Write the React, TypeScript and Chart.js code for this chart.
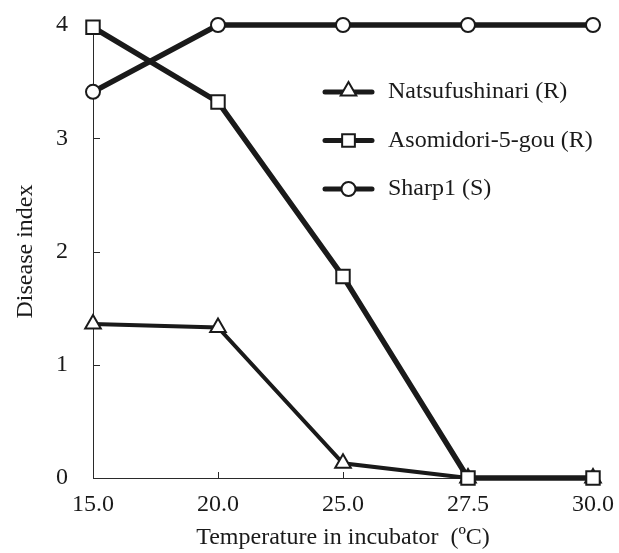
import React, { useEffect, useRef } from 'react';
import { Chart, registerables } from 'chart.js';

Chart.register(...registerables);

// ---- data ----
const temperatures = ['15.0', '20.0', '25.0', '27.5', '30.0'];
const natsufushinari = [1.36, 1.33, 0.13, 0, 0];
const asomidori = [3.98, 3.32, 1.78, 0, 0];
const sharp1 = [3.41, 4, 4, 4, 4];
const yTickValues = [0, 1, 2, 3, 4];
const seriesNames = ['Natsufushinari (R)', 'Asomidori-5-gou (R)', 'Sharp1 (S)'];
const seriesMarkers = ['triangle', 'rect', 'circle'];

const INK = '#1a1a1a';
const AXIS = '#2a2a2a';
const FONT_FAMILY = "'Liberation Serif', 'Times New Roman', serif";
const font = { family: FONT_FAMILY, size: 24 };

function drawMarker(ctx: CanvasRenderingContext2D, style: string, x: number, y: number, r: number) {
  ctx.beginPath();
  if (style === 'triangle') {
    ctx.moveTo(x, y - r);
    ctx.lineTo(x + r * Math.sin((2 * Math.PI) / 3), y + r / 2);
    ctx.lineTo(x - r * Math.sin((2 * Math.PI) / 3), y + r / 2);
    ctx.closePath();
  } else if (style === 'rect') {
    const s = Math.SQRT1_2 * r;
    ctx.rect(x - s, y - s, 2 * s, 2 * s);
  } else {
    ctx.arc(x, y, r, 0, Math.PI * 2);
  }
  ctx.fillStyle = '#ffffff';
  ctx.fill();
  ctx.lineWidth = 2;
  ctx.strokeStyle = INK;
  ctx.stroke();
}

const markerRadius: Record<string, number> = { triangle: 9, rect: 9.5, circle: 7 };

const innerTicks = {
  id: 'innerTicks',
  beforeDatasetsDraw(chart: any) {
    const { ctx, scales } = chart;
    const x = scales.x;
    const y = scales.y;
    ctx.save();
    ctx.strokeStyle = AXIS;
    ctx.lineWidth = 1;
    ctx.beginPath();
    yTickValues.forEach((v) => {
      if (v === 0) return;
      const py = Math.round(y.getPixelForValue(v)) + 0.5;
      ctx.moveTo(x.left, py);
      ctx.lineTo(x.left + 7, py);
    });
    temperatures.forEach((_, i) => {
      if (i === 0) return;
      const px = Math.round(x.getPixelForValue(i)) + 0.5;
      ctx.moveTo(px, y.bottom);
      ctx.lineTo(px, y.bottom - 6);
    });
    ctx.stroke();
    ctx.restore();
  },
};

const customLegend = {
  id: 'customLegend',
  afterDraw(chart: any) {
    const { ctx, chartArea } = chart;
    const lineStart = chartArea.left + 232;
    const lineEnd = chartArea.left + 279;
    const markX = (lineStart + lineEnd) / 2;
    const textX = chartArea.left + 295;
    const rowTop = chartArea.top + 67;
    const rowGap = 48.5;
    ctx.save();
    seriesNames.forEach((name, i) => {
      const yy = rowTop + i * rowGap;
      ctx.beginPath();
      ctx.lineCap = 'round';
      ctx.lineWidth = 5;
      ctx.strokeStyle = INK;
      ctx.moveTo(lineStart, yy);
      ctx.lineTo(lineEnd, yy);
      ctx.stroke();
      ctx.lineCap = 'butt';
      const st = seriesMarkers[i];
      drawMarker(ctx, st, markX, st === 'triangle' ? yy - 1 : yy, st === 'rect' ? 9 : markerRadius[st]);
      ctx.fillStyle = INK;
      ctx.font = `${font.size}px ${FONT_FAMILY}`;
      ctx.textAlign = 'left';
      ctx.textBaseline = 'middle';
      ctx.fillText(name, textX, yy);
    });
    ctx.restore();
  },
};

export default function App() {
  const canvasRef = useRef<HTMLCanvasElement | null>(null);

  useEffect(() => {
    if (!canvasRef.current) return;
    const seriesData = [natsufushinari, asomidori, sharp1];
    const widths = [4, 5.5, 5.5];
    const orders = [3, 2, 1];
    const chart = new Chart(canvasRef.current, {
      type: 'line',
      data: {
        labels: temperatures,
        datasets: seriesNames.map((name, i) => ({
          label: name,
          data: seriesData[i],
          borderColor: INK,
          backgroundColor: '#ffffff',
          borderWidth: widths[i],
          pointStyle: seriesMarkers[i] as any,
          pointRadius: markerRadius[seriesMarkers[i]],
          pointBackgroundColor: '#ffffff',
          pointBorderColor: INK,
          pointBorderWidth: 2,
          tension: 0,
          clip: false as any,
          order: orders[i],
        })),
      },
      options: {
        animation: false,
        responsive: true,
        maintainAspectRatio: false,
        layout: { padding: { top: 25, right: 26, left: 0, bottom: 0 } },
        plugins: {
          legend: { display: false },
          tooltip: { enabled: false },
        },
        scales: {
          x: {
            type: 'category',
            offset: false,
            grid: { display: false, drawTicks: false },
            border: { display: true, color: AXIS, width: 1 },
            ticks: { font, color: INK, padding: 12, maxRotation: 0, autoSkip: false },
            title: {
              display: true,
              text: 'Temperature in incubator  (ºC)',
              font,
              color: INK,
              padding: { top: 0, bottom: 1 },
            },
            afterFit: (s: any) => {
              s.height = 75;
              s.paddingLeft = 0;
              s.paddingRight = 0;
            },
          },
          y: {
            min: 0,
            max: 4,
            grid: { display: false, drawTicks: false },
            border: { display: true, color: AXIS, width: 1 },
            ticks: { stepSize: 1, font, color: INK, padding: 25 },
            title: {
              display: true,
              text: 'Disease index',
              font,
              color: INK,
              padding: { top: 11, bottom: 0 },
            },
            afterFit: (s: any) => {
              s.width = 93;
              s.paddingTop = 0;
              s.paddingBottom = 0;
            },
          },
        },
      },
      plugins: [innerTicks, customLegend],
    });
    return () => chart.destroy();
  }, []);

  return (
    <div style={{ position: 'fixed', left: 0, top: 0, width: 619, height: 553, background: '#ffffff' }}>
      <canvas ref={canvasRef} />
    </div>
  );
}
